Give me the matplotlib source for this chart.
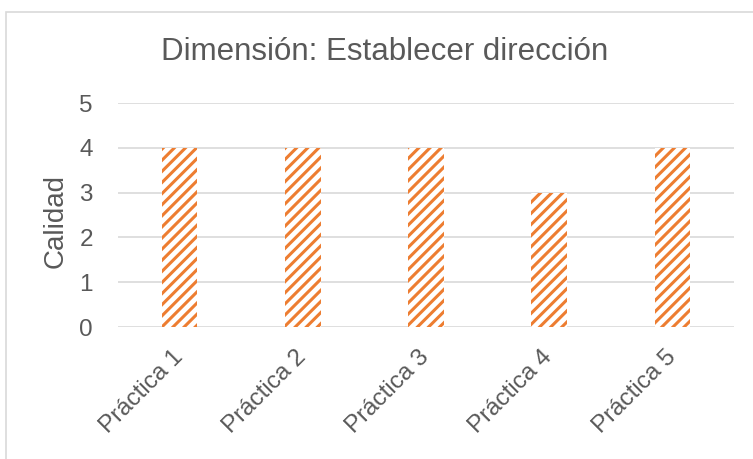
import matplotlib
matplotlib.use("Agg")
import matplotlib.pyplot as plt
from matplotlib.patches import Rectangle
import matplotlib.transforms as mtransforms

categories = ["Práctica 1", "Práctica 2", "Práctica 3", "Práctica 4", "Práctica 5"]
values = [4, 4, 4, 3, 4]
yticks = [0, 1, 2, 3, 4, 5]
title = "Dimensión: Establecer dirección"
ylabel = "Calidad"

plt.rcParams['font.family'] = ['Liberation Sans', 'DejaVu Sans']
plt.rcParams['hatch.linewidth'] = 2.2

W, H = 753, 459
fig = plt.figure(figsize=(W / 100, H / 100), dpi=100)
ax = fig.add_axes([118 / W, 1 - 327 / H, (734 - 118) / W, (327 - 103) / H])

# outer chart border
fig.patches.append(Rectangle((5.5 / W, -0.1), 1.2, 1 - 12.5 / H + 0.1,
                             transform=fig.transFigure, fill=False,
                             edgecolor='#D9D9D9', linewidth=1.2, zorder=0))

text_color = '#595959'
orange = '#ED7D31'
x = list(range(len(categories)))
ax.bar(x, values, width=0.29, facecolor='white', edgecolor=orange,
       linewidth=0, hatch='///', zorder=3)

ax.set_xlim(-0.5, len(categories) - 0.5)
ax.set_ylim(0, 5)
ax.set_yticks(yticks)
ax.set_yticklabels([str(v) for v in yticks], fontsize=17.5, color=text_color)
ax.set_xticks(x)
ax.set_xticklabels(categories, rotation=45, ha='right', va='center',
                   rotation_mode='anchor', fontsize=17.5, color=text_color)
offset = mtransforms.ScaledTranslation(7 / 100, 0, fig.dpi_scale_trans)
for lab in ax.get_xticklabels():
    lab.set_transform(lab.get_transform() + offset)
ax.tick_params(axis='both', length=0)
ax.tick_params(axis='y', pad=18)
ax.tick_params(axis='x', pad=19)
ax.grid(axis='y', color='#D9D9D9', linewidth=1.2, zorder=0)
ax.set_axisbelow(True)
for s in ax.spines.values():
    s.set_visible(False)

fig.text(56 / W, 1 - 221 / H, ylabel, fontsize=20, color=text_color,
         rotation=90, ha='center', va='center')
fig.text(385 / W, 1 - 60 / H, title, fontsize=22.5, color=text_color,
         ha='center', va='baseline')

fig.savefig("out.png", dpi=100)
